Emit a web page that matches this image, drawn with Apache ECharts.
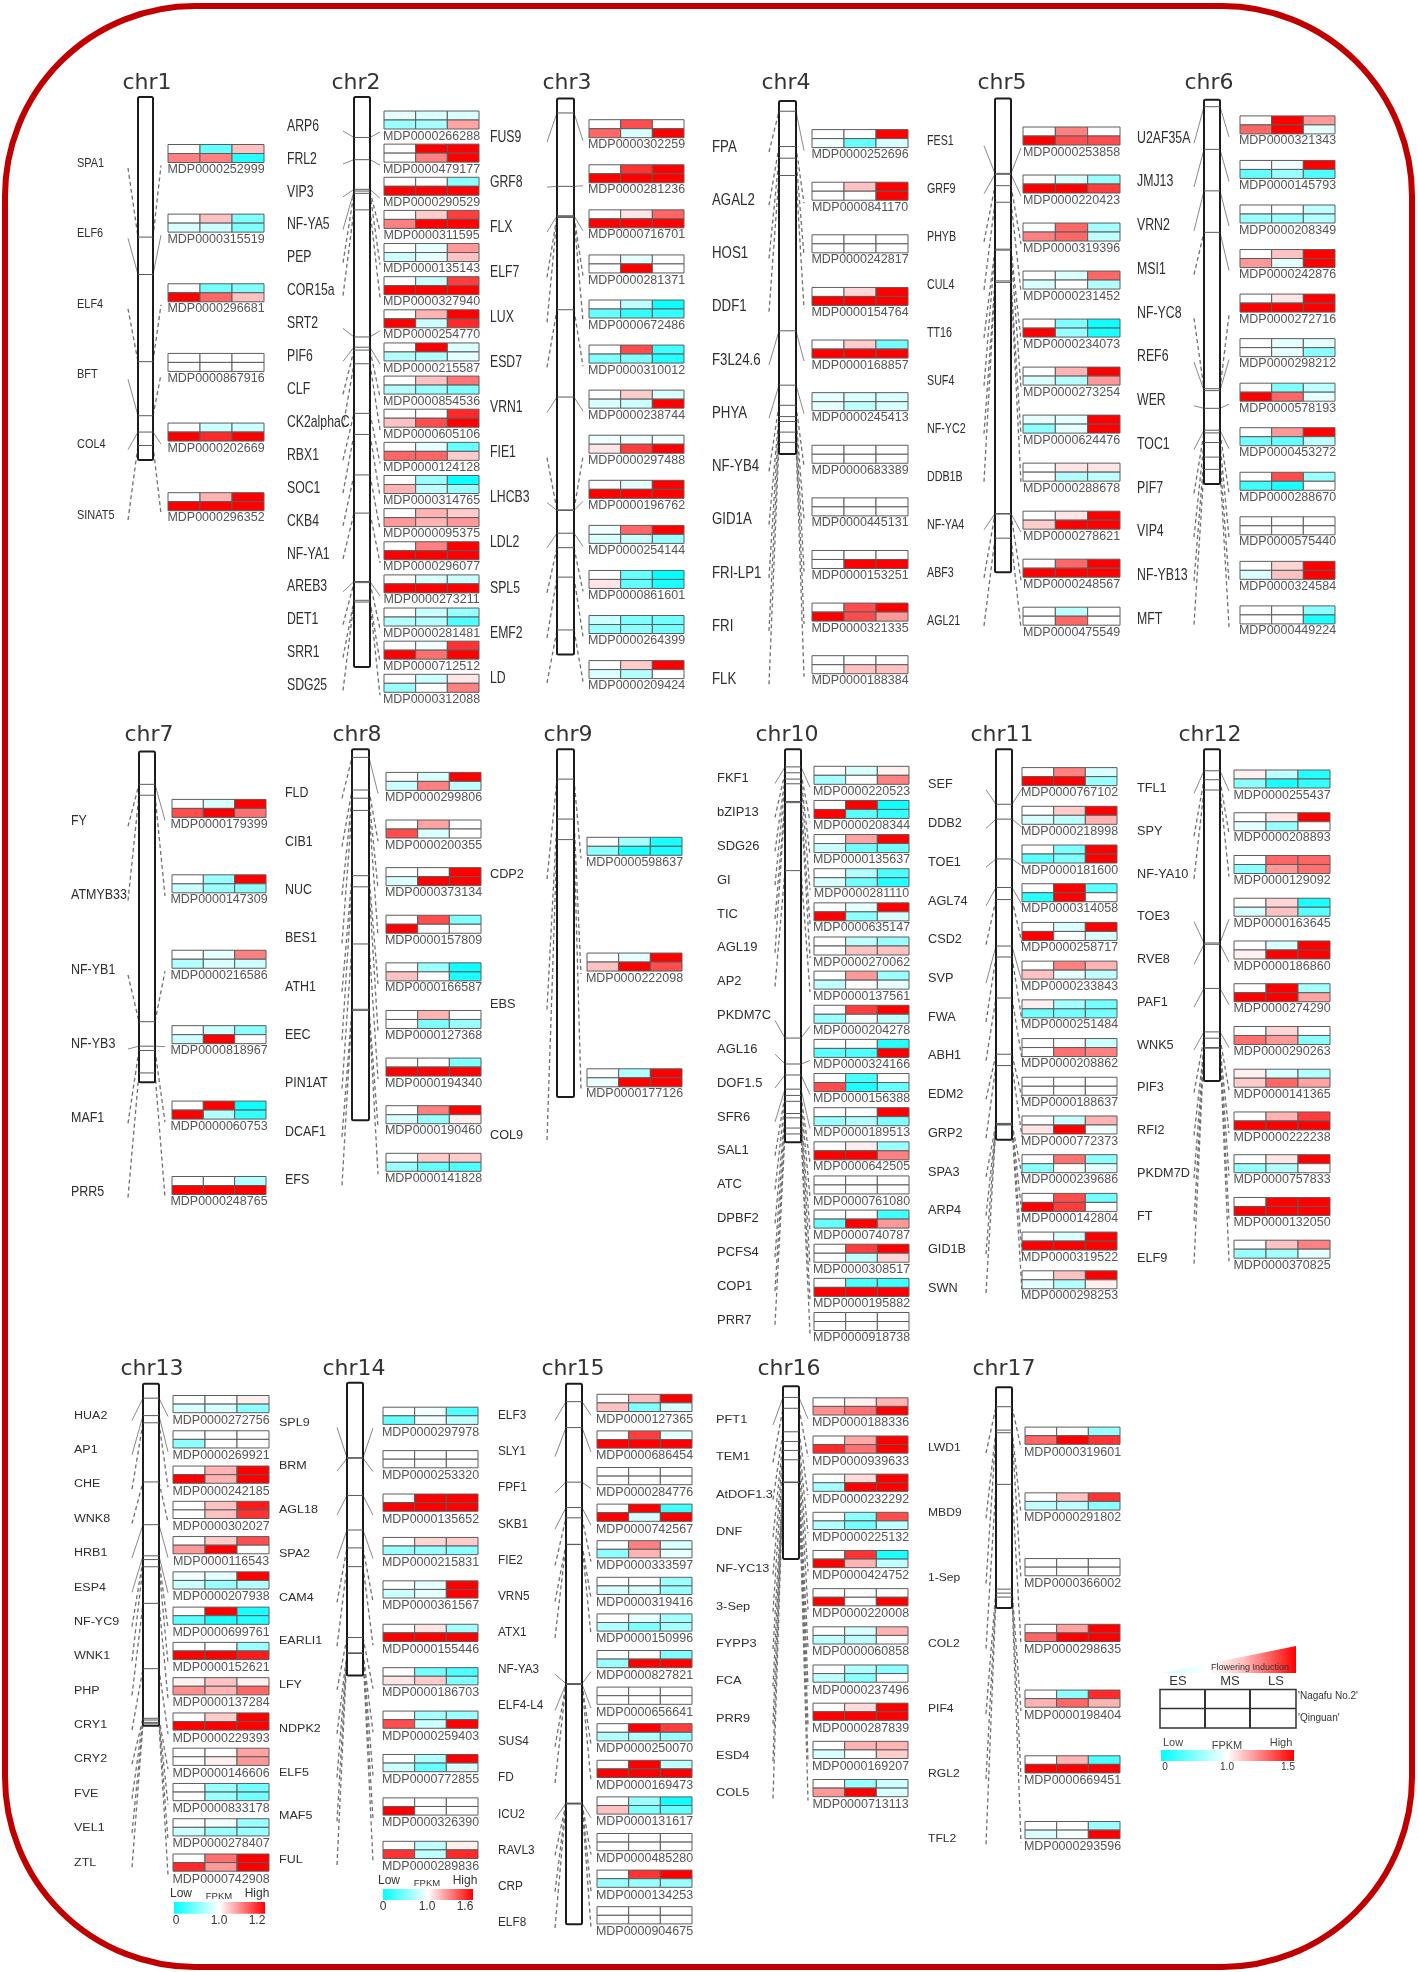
<!DOCTYPE html>
<html><head><meta charset="utf-8">
<style>html,body{margin:0;padding:0;background:#fff}#chart{width:1418px;height:1972px;filter:blur(0.4px)}</style>
<script src="https://cdn.jsdelivr.net/npm/echarts@6/dist/echarts.min.js"></script>
</head><body><div id="chart"></div>
<script>
// Values: FPKM relative to ES of 'Nagafu No.2'. Each gene: [NagafuES, NagafuMS, NagafuLS, QinguanES, QinguanMS, QinguanLS]
const w=1,R=1.5;
const chr1Genes=['SPA1','ELF6','ELF4','BFT','COL4','SINAT5'];
const chr1Ids=['252999','315519','296681','867916','202669','296352'];
const chr1Loci=[38.6,48.9,72.9,87.8,92.3,96];
const chr1Values=[[w,.4,1.12,1.25,1.25,.15],[w,1.12,.5,.85,.8,.5],[w,.45,.5,R,1.3,1.12],[w,w,w,w,w,w],[w,.8,.8,R,1.42,R],[w,1.15,R,R,R,R]];
const chr2Genes=['ARP6','FRL2','VIP3','NF-YA5','PEP','COR15a','SRT2','PIF6','CLF','CK2alphaC','RBX1','SOC1','CKB4','NF-YA1','AREB3','DET1','SRR1','SDG25'];
const chr2Ids=['266288','479177','290529','311595','135143','327940','254770','215587','854536','605106','124128','314765','095375','296077','273211','281481','712512','312088'];
const chr2Loci=[7.1,11,16.2,16.5,16.9,19.8,42.1,43.9,44.4,46.8,55.5,59.2,66.3,73,85,85.2,88.3,88.6];
const chr2Values=[[.9,.85,.85,.6,.65,1.18],[w,R,R,w,1.25,R],[w,w,.55,R,R,R],[w,1.1,1.38,1.25,R,R],[w,.9,1.2,.8,.9,1.12],[w,.8,1.38,R,R,R],[w,1.15,R,R,.8,1.42],[w,R,.85,.7,.7,.9],[w,1.12,1.27,.7,.6,.5],[w,w,1.42,1.12,1.35,R],[w,.9,.4,1.3,1.3,1.1],[w,.6,.05,1.15,.75,.6],[w,1.15,1.1,1.2,1.15,1.2],[w,1.25,R,R,R,R],[w,.85,.8,R,R,R],[w,.8,.6,.7,.7,.3],[w,.95,1.4,R,1.28,R],[w,.8,1.05,.6,w,1.25]];
const chr3Genes=['FUS9','GRF8','FLX','ELF7','LUX','ESD7','VRN1','FIE1','LHCB3','LDL2','SPL5','EMF2','LD'];
const chr3Ids=['302259','281236','716701','281371','672486','310012','238744','297488','196762','254144','861601','264399','209424'];
const chr3Loci=[2.6,15.8,21.1,21.2,21.4,38,53.7,74,74.1,78.2,80.8,86.1,95.6];
const chr3Values=[[w,1.35,w,1.3,.85,R],[w,1.4,R,R,R,R],[w,1.05,1.3,R,R,R],[w,.9,w,w,R,w],[w,.75,.05,.4,.2,.2],[w,1.35,.25,.5,.5,.15],[w,1.1,.85,.85,.8,R],[.95,.95,.95,1.05,1.38,R],[w,.9,R,R,R,R],[.95,1.3,R,.85,.8,.6],[w,.4,0,1.05,.4,.1],[.8,.5,.45,.6,.55,.45],[w,1.1,R,.85,.7,w]];
const chr4Genes=['FPA','AGAL2','HOS1','DDF1','F3L24.6','PHYA','NF-YB4','GID1A','FRI-LP1','FRI','FLK'];
const chr4Ids=['252696','841170','242817','154764','168857','245413','683389','445131','153251','321335','188384'];
const chr4Loci=[2.9,12.9,16.2,21.1,65.1,80.5,86.2,89.4,90.8,93.8,96.7];
const chr4Values=[[w,w,R,.95,.4,.85],[w,1.12,R,w,w,R],[w,w,w,w,w,w],[w,1.08,R,R,R,R],[w,1.1,.45,R,R,R],[.9,.85,.85,.9,.75,.85],[w,w,w,w,w,w],[w,w,w,w,w,w],[w,w,w,w,R,R],[w,1.35,R,R,1.35,1.2],[w,w,w,w,1.12,1.12]];
const chr5Genes=['FES1','GRF9','PHYB','CUL4','TT16','SUF4','NF-YC2','DDB1B','NF-YA4','ABF3','AGL21'];
const chr5Ids=['253858','220423','319396','231452','234073','273254','624476','288678','278621','248567','475549'];
const chr5Loci=[15.8,16,18.4,21.9,31.8,32,38.5,38.8,87.6,87.7,92.8];
const chr5Values=[[w,1.25,w,R,1.35,1.35],[w,.85,.6,R,R,1.38],[w,1.3,.65,1.25,1.3,.75],[w,.85,1.3,.85,w,.7],[w,.5,.05,R,.6,.1],[w,1.15,R,.85,.7,1.2],[.9,.9,R,.55,.9,R],[w,1.05,1.05,w,.7,.75],[w,1.05,R,1.1,R,R],[w,1.3,R,R,R,R],[w,.75,w,w,1.3,w]];
const chr6Genes=['U2AF35A','JMJ13','VRN2','MSI1','NF-YC8','REF6','WER','TOC1','PIF7','VIP4','NF-YB13','MFT'];
const chr6Ids=['321343','145793','208349','242876','272716','298212','578193','453272','288670','575440','324584','449224'];
const chr6Loci=[1.8,12.9,23.7,34.5,75.2,75.7,80.3,86,86.7,89.2,93,96.2];
const chr6Values=[[w,R,1.2,1.3,R,.9],[w,.95,R,.4,.6,.3],[w,w,.75,.6,.6,.7],[w,1.12,R,1.2,.9,R],[w,1.05,R,R,R,R],[w,.9,.9,w,.9,.55],[w,.5,.75,R,1.3,.9],[w,1.2,R,.45,.4,.75],[w,1.35,.6,.25,.1,w],[w,w,w,w,w,w],[w,1.08,R,.85,1.12,R],[w,w,.55,w,w,.1]];
const chr7Genes=['FY','ATMYB33','NF-YB1','NF-YB3','MAF1','PRR5'];
const chr7Ids=['179399','147309','216586','818967','060753','248765'];
const chr7Loci=[9.9,13.2,81.7,89.1,90.4,97.2];
const chr7Values=[[w,.85,R,1.35,R,1.28],[w,.6,R,.8,.6,.55],[w,.9,1.25,.7,.85,.8],[w,.8,.55,.8,R,w],[w,R,.05,R,.7,.2],[w,w,.7,R,R,R]];
const chr8Genes=['FLD','CIB1','NUC','BES1','ATH1','EEC','PIN1AT','DCAF1','EFS'];
const chr8Ids=['299806','200355','373134','157809','166587','127368','194340','190460','141828'];
const chr8Loci=[2.2,11,13.2,16.5,34.1,37.1,52.5,70.1,70.4];
const chr8Values=[[w,.85,R,.8,1.25,.75],[w,1.18,w,1.35,.85,w],[w,w,R,.85,R,R],[w,1.35,.5,R,w,w],[w,.6,.05,1.12,w,.1],[w,1.15,w,w,.5,.6],[w,w,.5,R,R,R],[w,1.25,R,.85,.6,1.03],[w,1.1,1.1,.6,.4,.3]];
const chr9Genes=['CDP2','EBS','COL9'];
const chr9Ids=['598637','222098','177126'];
const chr9Loci=[8.6,20.1,26];
const chr9Values=[[w,.65,.1,.55,.1,.1],[w,.9,R,1.12,R,1.35],[w,.7,R,.92,R,R]];
const chr10Genes=['FKF1','bZIP13','SDG26','GI','TIC','AGL19','AP2','PKDM7C','AGL16','DOF1.5','SFR6','SAL1','ATC','DPBF2','PCFS4','COP1','PRR7'];
const chr10Ids=['220523','208344','135637','281110','635147','270062','137561','204278','324166','156388','189513','642505','761080','740787','308517','195882','918738'];
const chr10Loci=[4.5,6,7.6,8.8,13.3,13.6,30.9,73.5,80.1,82.9,86.5,88.1,89.6,92.7,93.8,96.4,97.9];
const chr10Values=[[w,.85,1.03,.65,w,1.25],[w,R,.05,R,.35,.2],[w,1.18,R,.8,.45,.45],[w,.7,.3,.85,.45,.15],[w,.9,R,R,.55,.85],[w,.75,.6,w,1.12,1.12],[w,1.2,.6,.75,w,.9],[w,1.38,R,.6,.95,.75],[w,w,.15,.35,.3,R],[w,.3,w,1.35,.1,.4],[w,w,R,.6,.7,.5],[w,1.03,.6,R,R,1.25],[w,w,w,w,w,w],[w,w,.25,.4,R,1.2],[w,1.38,R,w,.75,1.08],[w,.3,.25,R,R,R],[w,w,w,w,w,w]];
const chr11Genes=['SEF','DDB2','TOE1','AGL74','CSD2','SVP','FWA','ABH1','EDM2','GRP2','SPA3','ARP4','GID1B','SWN'];
const chr11Ids=['767102','218998','181600','314058','258717','233843','251484','208862','188637','772373','239686','142804','319522','298253'];
const chr11Loci=[14.1,17.9,28.1,35.4,38.5,50.4,53.2,63.7,78.1,81,95.8,96,96.1,96.2];
const chr11Values=[[w,1.25,.85,R,R,.6],[w,1.1,R,.85,.75,1.15],[w,.5,R,.35,.5,R],[w,R,.35,.15,R,w],[w,.85,R,R,w,.85],[w,1.25,1.15,1.12,.9,.75],[1.03,.65,.45,.45,.45,.45],[w,w,.8,w,1.28,1.25],[w,w,w,w,w,w],[w,.8,1.15,1.05,R,.95],[w,1.28,.55,.55,w,.9],[w,1.35,.45,R,1.38,w],[w,.85,R,R,R,R],[w,1.12,R,.9,.7,1.03]];
const chr12Genes=['TFL1','SPY','NF-YA10','TOE3','RVE8','PAF1','WNK5','PIF3','RFI2','PKDM7D','FT','ELF9'];
const chr12Ids=['255437','208893','129092','163645','186860','274290','290263','141365','222238','757833','132050','370825'];
const chr12Loci=[6.5,9.2,12.3,58.4,58.8,72.1,85.2,87.1,89.9,89.95,90,90.05];
const chr12Values=[[1.03,.75,.15,.55,.1,.2],[w,1.05,R,.9,.6,w],[w,1.3,1.3,.55,1.2,1.28],[w,1.08,.1,.85,1.12,.35],[w,.85,R,1.03,R,R],[w,R,.65,R,R,1.18],[w,1.08,w,1.28,1.2,.55],[1.03,.85,.7,1.1,1.3,1.18],[w,1.15,1.38,R,R,R],[w,1.05,R,.6,.7,w],[w,R,R,R,R,R],[w,1.12,1.25,.6,.65,.9]];
const chr13Genes=['HUA2','AP1','CHE','WNK8','HRB1','ESP4','NF-YC9','WNK1','PHP','CRY1','CRY2','FVE','VEL1','ZTL'];
const chr13Ids=['272756','269921','242185','302027','116543','207938','699761','152621','137284','229393','146606','833178','278407','742908'];
const chr13Loci=[4.2,9.3,11.4,28.7,41.2,50.3,51.4,53.5,64.2,83.3,97.8,98.3,99,99.4];
const chr13Values=[[w,w,1.03,.85,.85,.55],[w,w,w,.55,w,w],[w,1.15,R,R,1.15,R],[w,1.12,1.45,w,1.12,1.4],[w,1.1,1.35,1.2,R,w],[.95,.9,R,.8,.6,.7],[w,R,.1,.35,.1,.15],[w,w,.6,R,R,1.45],[1.03,1.12,1.03,1.22,1.15,1.3],[w,1.1,R,R,R,R],[w,w,1.18,w,1.03,1.2],[w,.6,.45,w,.6,.45],[w,.95,.6,.8,.6,.6],[w,1.28,R,1.42,1.2,R]];
const chr14Genes=['SPL9','BRM','AGL18','SPA2','CAM4','EARLI1','LFY','NDPK2','ELF5','MAF5','FUL'];
const chr14Ids=['297978','253320','135652','215831','361567','155446','186703','259403','772855','326390','289836'];
const chr14Loci=[25.6,25.8,38.5,50.3,56.4,62.8,87,92.3,92.35,92.4,92.45];
const chr14Values=[[w,.95,.3,.4,.95,.75],[w,w,w,w,w,w],[w,R,R,R,R,R],[w,1.08,1.1,.6,.6,.55],[w,.9,R,.8,.9,R],[w,1.05,.65,R,R,R],[w,.45,.3,1.05,1.1,.5],[w,.65,.6,1.35,.8,R],[w,.7,R,.8,.4,.85],[w,w,w,R,w,w],[w,.75,1.03,1.4,.75,1.42]];
const chr15Genes=['ELF3','SLY1','FPF1','SKB1','FIE2','VRN5','ATX1','NF-YA3','ELF4-L4','SUS4','FD','ICU2','RAVL3','CRP','ELF8'];
const chr15Ids=['127365','686454','284776','742567','333597','319416','150996','827821','656641','250070','169473','131617','485280','134253','904675'];
const chr15Loci=[3.3,8.1,18.2,22.9,24.8,29.7,29.75,55.5,55.55,55.6,55.65,77.6,77.65,77.7,77.75];
const chr15Values=[[w,1.13,R,1.12,.5,.85],[w,1.38,.9,R,R,R],[w,w,w,w,w,w],[w,R,.25,R,.85,R],[w,1.25,.85,.55,1.15,.9],[w,w,.6,.85,.85,.6],[w,.9,.65,.7,.5,.65],[w,w,.5,.6,R,R],[w,w,w,w,w,w],[w,R,1.38,.7,.7,.6],[w,R,.75,R,R,R],[w,.6,.05,1.12,.5,.4],[w,w,w,w,w,w],[w,1.4,R,.6,.6,.6],[w,w,w,w,w,w]];
const chr16Genes=['PFT1','TEM1','AtDOF1.3','DNF','NF-YC13','3-Sep','FYPP3','FCA','PRR9','ESD4','COL5'];
const chr16Ids=['188336','939633','232292','225132','424752','220008','060858','237496','287839','169207','713113'];
const chr16Loci=[6.5,12.8,26.4,32,37.2,42.6,55.6,55.65,55.7,55.75,55.8];
const chr16Values=[[w,1.03,1.15,1.22,1.28,R],[w,1.17,R,1.42,1.28,R],[w,1.07,R,.65,R,R],[w,.55,1.35,.7,.45,.75],[w,1.4,.1,R,1.15,.75],[w,w,w,R,w,R],[w,.85,1.15,.75,.75,w],[w,.7,.55,.75,.55,w],[w,1.07,R,R,R,R],[w,1.15,1.15,.85,w,1.1],[w,.6,.8,1.2,R,.85]];
const chr17Genes=['LWD1','MBD9','1-Sep','COL2','PIF4','RGL2','TFL2'];
const chr17Ids=['319601','291802','366002','298635','198404','669451','293596'];
const chr17Loci=[8.8,19.4,20.6,44,91.5,93.3,95.1];
const chr17Values=[[w,w,.6,1.3,R,1.4],[w,1.12,1.4,.75,.75,.55],[w,w,w,w,w,w],[w,1.18,R,1.3,R,R],[w,.55,1.42,1.15,1.3,1.15],[w,1.15,.3,R,R,R],[w,w,.6,.85,.97,R]];
const sampleLabels=['ES','MS','LS'];
const cultivars=["'Nagafu No.2'","'Qinguan'"];

const chromosomes=[
 [chr1Genes,chr1Ids,chr1Loci,chr1Values],[chr2Genes,chr2Ids,chr2Loci,chr2Values],[chr3Genes,chr3Ids,chr3Loci,chr3Values],
 [chr4Genes,chr4Ids,chr4Loci,chr4Values],[chr5Genes,chr5Ids,chr5Loci,chr5Values],[chr6Genes,chr6Ids,chr6Loci,chr6Values],
 [chr7Genes,chr7Ids,chr7Loci,chr7Values],[chr8Genes,chr8Ids,chr8Loci,chr8Values],[chr9Genes,chr9Ids,chr9Loci,chr9Values],
 [chr10Genes,chr10Ids,chr10Loci,chr10Values],[chr11Genes,chr11Ids,chr11Loci,chr11Values],[chr12Genes,chr12Ids,chr12Loci,chr12Values],
 [chr13Genes,chr13Ids,chr13Loci,chr13Values],[chr14Genes,chr14Ids,chr14Loci,chr14Values],[chr15Genes,chr15Ids,chr15Loci,chr15Values],
 [chr16Genes,chr16Ids,chr16Loci,chr16Values],[chr17Genes,chr17Ids,chr17Loci,chr17Values]];

// Layout of each panel on the page (pixels)
const layouts=[
 {t:[147,83], bar:[138,153,97,460], heat:[168,264,144.5,492.7], name:[77,163,515], conn:[128,161], font:13.5,sx:.81,ch:9},
 {t:[356,83], bar:[354,370,97,667], heat:[384,479,111,674.3], name:[287,126,685.5], conn:[343,380], font:17,sx:.72,ch:9},
 {t:[567,83], bar:[557,574,98.5,654.4], heat:[589,684,119.7,660.6], name:[490,137,678], conn:[547,583], font:17,sx:.72,ch:9},
 {t:[786,83], bar:[779,796,101,454], heat:[812,908,129.6,655.7], name:[712,147,679.3], conn:[769,804], font:17,sx:.78,ch:9},
 {t:[1002,83],bar:[995,1011,98.5,572.3],heat:[1023,1120,127,607.2],name:[927,140.8,620.8],conn:[984,1021],font:15.5,sx:.69,ch:9},
 {t:[1209,83],bar:[1204,1220,99.8,484],heat:[1240,1335,115.9,605.9],name:[1137,138.3,619.6],conn:[1194,1229],font:16,sx:.77,ch:9},
 {t:[149,735],bar:[139,155,751.6,1082.2],heat:[172,266,799.4,1176.5],name:[71,821.4,1192.5],conn:[128,165],font:14,sx:.89,ch:9},
 {t:[357,735],bar:[352,369,749.2,1120.2],heat:[386,481,772.4,1153.3],name:[285,793.3,1180.2],conn:[342,378],font:14,sx:.89,ch:9},
 {t:[568,735],bar:[557,574,749.2,1096.9],heat:[587,682,837.3,1068.8],name:[490,874.1,1134.9],conn:[547,581],font:13.5,sx:.94,ch:9},
 {t:[787,735],bar:[785,801,749.2,1142.2],heat:[814,909,766.3,1312.5],name:[717,778.6,1319.8],conn:[775,810],font:13.5,sx:.96,ch:9},
 {t:[1002,735],bar:[996,1012,749.2,1139.8],heat:[1022,1117,767.6,1270.8],name:[928,784.7,1288],conn:[986,1022],font:13.5,sx:.94,ch:9},
 {t:[1210,735],bar:[1204,1220,749.2,1081],heat:[1234,1330,770,1240.2],name:[1137,788.4,1258.6],conn:[1194,1229],font:13.5,sx:.94,ch:9},
 {t:[152,1369],bar:[143,159,1383.8,1725.8],heat:[173,269,1395.5,1854],name:[74,1415.4,1862.3],conn:[132,168],font:11.7,sx:1.07,ch:8.6},
 {t:[354,1369],bar:[347,363,1382.7,1675.6],heat:[383,478,1407.2,1841.3],name:[279,1422.4,1860],conn:[337,373],font:11.7,sx:1.07,ch:8.6},
 {t:[573,1369],bar:[566,582,1383.8,1924.2],heat:[597,692,1394.3,1906.7],name:[498,1415.4,1923],conn:[555,591],font:12.3,sx:.96,ch:8.6},
 {t:[789,1369],bar:[783,799,1386.2,1558.9],heat:[813,908,1397.8,1779.5],name:[716,1420,1793.4],conn:[773,808],font:10.5,sx:1.22,ch:8.6},
 {t:[1004,1369],bar:[996,1012,1387.3,1607.9],heat:[1025,1120,1427.1,1821.5],name:[928,1448.1,1839.2],conn:[986,1021],font:11,sx:1.1,ch:8.6}];
const idOffset=25, leftDrop=5, rightDrop=21, solidLimit=40;

function lineItem(params,api){
  const a=api.coord([api.value(0),api.value(1)]), b=api.coord([api.value(2),api.value(3)]);
  const dashed=api.value(4)===1, tick=api.value(4)===2;
  return {type:'line',shape:{x1:a[0],y1:a[1],x2:b[0],y2:b[1]},
    style:{stroke:tick?'#5a5a5a':(dashed?'#707070':'#888'),lineWidth:dashed?1.3:1,lineDash:dashed?[4,3]:null,fill:null}};
}
function cellItem(params,api){
  const a=api.coord([api.value(0),api.value(1)]), b=api.coord([api.value(0)+1,api.value(3)]);
  return {type:'rect',shape:{x:a[0],y:a[1],width:b[0]-a[0],height:b[1]-a[1]},
    style:{fill:api.visual('color'),stroke:'#5c5c5c',lineWidth:1}};
}
function barItem(params,api){
  const a=api.coord([api.value(0),api.value(1)]), b=api.coord([api.value(2),api.value(3)]);
  return {type:'rect',shape:{x:a[0],y:a[1],width:b[0]-a[0],height:b[1]-a[1],r:1.5},
    style:{fill:'#fff',stroke:'#1c1c1c',lineWidth:2}};
}

const grids=[],xAxes=[],yAxes=[],series=[],titles=[],cellSeries=[];
chromosomes.forEach(([genes,ids,loci,values],c)=>{
  const L=layouts[c],n=genes.length;
  const [hl,hr,ht,hLast]=L.heat,[bl,br,bt,bb]=L.bar,[nl,nFirst,nLast]=L.name,[cl,cr]=L.conn;
  const pitch=(hLast-ht)/(n-1),cw=(hr-hl)/3,namePitch=(nLast-nFirst)/(n-1);
  const gl=nl-6,gr=hr+6,gt=Math.min(bt,ht,nFirst)-8,gb=Math.max(bb,hLast+36,nLast+12)+4;
  const X=p=>(p-hl)/cw,Y=p=>(p-ht)/pitch;
  const locusY=v=>Y(bt+v/100*(bb-bt));
  grids.push({left:gl,top:gt,width:gr-gl,height:gb-gt,show:false});
  xAxes.push({type:'value',gridIndex:c,min:X(gl),max:X(gr),show:false});
  yAxes.push({type:'value',gridIndex:c,min:Y(gt),max:Y(gb),inverse:true,show:false});
  titles.push({text:'chr'+(c+1),left:L.t[0],top:L.t[1]-14,textAlign:'center',padding:0,
    textStyle:{fontFamily:'DejaVu Sans',fontSize:22,fontWeight:'normal',color:'#333',lineHeight:28}});
  const base={type:'custom',xAxisIndex:c,yAxisIndex:c,silent:true,animation:false,clip:false};
  const conn=[];
  genes.forEach((g,i)=>{
    const ly=locusY(loci[i]);
    const ny=Y(nFirst+i*namePitch+leftDrop), hy=i+rightDrop/pitch;
    const dl=Math.abs(ny-ly)*pitch, dr=Math.abs(hy-ly)*pitch;
    conn.push([X(cl),ny,X(bl),ly,dl>solidLimit?1:0]);
    conn.push([X(br),ly,X(cr),hy,dr>solidLimit?1:0]);
  });
  series.push(Object.assign({},base,{name:'connectors'+c,data:conn,renderItem:lineItem,encode:{x:[0,2],y:[1,3]}}));
  series.push(Object.assign({},base,{name:'bar'+c,data:[[X(bl),Y(bt),X(br),Y(bb)]],renderItem:barItem,encode:{x:[0,2],y:[1,3]}}));
  series.push(Object.assign({},base,{name:'loci'+c,data:loci.map(v=>[X(bl),locusY(v),X(br),locusY(v),2]),renderItem:lineItem,encode:{x:[0,2],y:[1,3]}}));
  const cells=[],rowFrac=L.ch/pitch;
  values.forEach((row,i)=>row.forEach((v,k)=>{
    const r=k<3?0:1,col=k%3;
    cells.push([col,i+r*rowFrac,v,i+(r+1)*rowFrac]);
  }));
  cellSeries.push(series.length);
  series.push(Object.assign({},base,{name:'cells'+c,data:cells,renderItem:cellItem,encode:{x:0,y:1}}));
  series.push(Object.assign({},base,{name:'names'+c,data:genes.map((g,i)=>[X(nl),Y(nFirst+i*namePitch),g]),encode:{x:0,y:1},
    renderItem:(p,api)=>{const a=api.coord([api.value(0),api.value(1)]);
      return {type:'text',x:a[0],y:a[1],scaleX:L.sx,style:{text:genes[p.dataIndex],x:0,y:0,font:L.font+'px "Liberation Sans"',fill:'#2e2e2e',align:'left',verticalAlign:'middle'}};}}));
  series.push(Object.assign({},base,{name:'ids'+c,data:ids.map((g,i)=>[1.5,i+idOffset/pitch]),encode:{x:0,y:1},
    renderItem:(p,api)=>{const a=api.coord([api.value(0),api.value(1)]);
      return {type:'text',x:a[0],y:a[1],scaleX:.96,style:{text:'MDP0000'+ids[p.dataIndex],x:0,y:0,font:'13px "Liberation Sans"',fill:'#555',align:'center',verticalAlign:'middle'}};}}));
});

const ramp={type:'linear',x:0,y:0,x2:1,y2:0,colorStops:[{offset:0,color:'#00ffff'},{offset:.25,color:'#80ffff'},{offset:.5,color:'#ffffff'},{offset:1,color:'#ff0000'}]};
const txt=(text,x,y,size,align,color)=>({type:'text',x,y,style:{text,font:size+'px "Liberation Sans"',fill:color||'#333',align:align||'center',verticalAlign:'middle'}});
function colorBar(x1,x2,y1,y2,labels){
  return [{type:'rect',shape:{x:x1,y:y1,width:x2-x1,height:y2-y1},style:{fill:ramp}}].concat(labels);
}
const graphicEls=[
  {type:'rect',shape:{x:5,y:6,width:1407,height:1961,r:190},style:{fill:null,stroke:'#c00000',lineWidth:6}},
  ...colorBar(174,265,1902,1913.7,[txt('Low',181,1894,12),txt('FPKM',219,1896,9.5),txt('High',257,1894,12),txt('0',176,1921,12),txt('1.0',219,1921,12),txt('1.2',257,1921,12)]),
  ...colorBar(383,473,1889,1900,[txt('Low',389,1881,12),txt('FPKM',427,1883,9.5),txt('High',465,1881,12),txt('0',383,1907,12),txt('1.0',427,1907,12),txt('1.6',465,1907,12)]),
  ...colorBar(1161,1294,1750,1761,[txt('Low',1173,1743,11,'center','#444'),txt('FPKM',1227,1746,11,'center','#444'),txt('High',1281,1743,11,'center','#444'),txt('0',1165,1767,10),txt('1.0',1227,1767,10),txt('1.5',1288,1767,10)]),
  {type:'polygon',shape:{points:[[1163,1673],[1296,1646],[1296,1673]]},style:{fill:{type:'linear',x:0,y:0,x2:1,y2:0,colorStops:[{offset:0,color:'#c8ffff'},{offset:.35,color:'#ffffff'},{offset:.6,color:'#ffc0c0'},{offset:1,color:'#ff0000'}]}}},
  txt('Flowering Induction',1250,1668,9,'center','#333'),
  txt(sampleLabels[0],1178,1681,13),txt(sampleLabels[1],1230,1681,13),txt(sampleLabels[2],1276,1681,13),
  {type:'rect',shape:{x:1160,y:1689.5,width:136,height:38.5},style:{fill:'#fff',stroke:'#333',lineWidth:1.5}},
  {type:'line',shape:{x1:1160,y1:1708.5,x2:1296,y2:1708.5},style:{stroke:'#333',lineWidth:1.5}},
  {type:'line',shape:{x1:1205,y1:1689.5,x2:1205,y2:1728},style:{stroke:'#333',lineWidth:2}},
  {type:'line',shape:{x1:1250,y1:1689.5,x2:1250,y2:1728},style:{stroke:'#333',lineWidth:2}},
  txt(cultivars[0],1298,1696,10,'left'),txt(cultivars[1],1298,1718,10,'left')
];

const chart=echarts.init(document.getElementById('chart'),null,{renderer:'canvas'});
chart.setOption({
  backgroundColor:'#fff',animation:false,title:titles,grid:grids,xAxis:xAxes,yAxis:yAxes,
  visualMap:{show:false,type:'continuous',min:0,max:1.5,dimension:2,seriesIndex:cellSeries,inRange:{color:['#00ffff','#80ffff','#ffffff','#ff0000']}},
  series,graphic:{elements:graphicEls}
});
</script></body></html>
